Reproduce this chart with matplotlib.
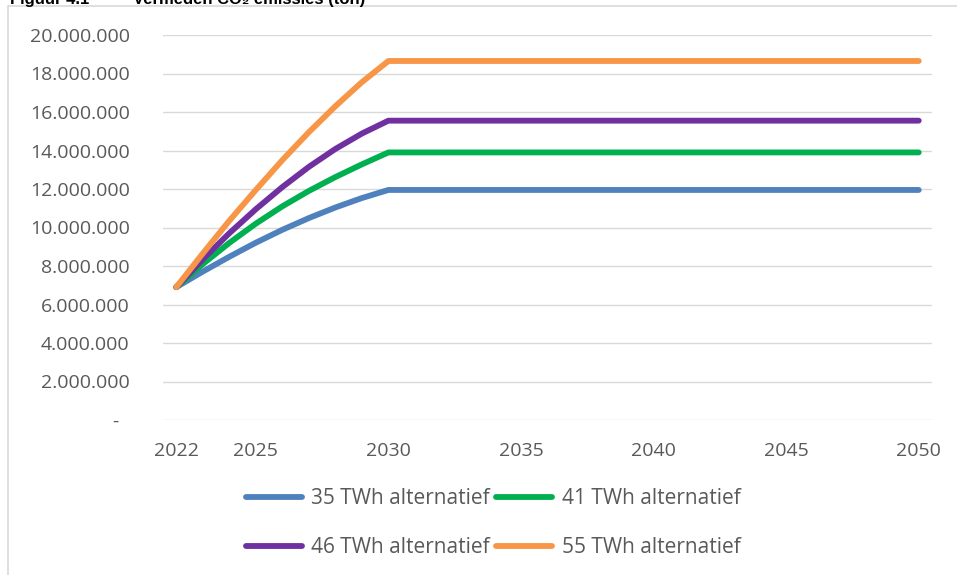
import matplotlib
matplotlib.use("Agg")
import matplotlib.pyplot as plt
from matplotlib.patches import Rectangle
from matplotlib.ticker import FuncFormatter

# Vermeden CO2-emissies per alternatief (ton), 2022-2050
years = list(range(2022, 2051))
ramp_35 = [6.9e6, 7.71e6, 8.48e6, 9.21e6, 9.88e6, 10.49e6, 11.04e6, 11.53e6, 11.95e6]
ramp_41 = [6.9e6, 8.1e6, 9.2e6, 10.2e6, 11.1e6, 11.9e6, 12.62e6, 13.28e6, 13.9e6]
ramp_46 = [6.9e6, 8.35e6, 9.7e6, 10.95e6, 12.1e6, 13.15e6, 14.08e6, 14.88e6, 15.55e6]
ramp_55 = [6.9e6, 8.65e6, 10.35e6, 11.95e6, 13.5e6, 14.95e6, 16.3e6, 17.55e6, 18.65e6]
# na 2030 blijft de besparing gelijk
alt_35 = ramp_35 + [ramp_35[-1]] * 20
alt_41 = ramp_41 + [ramp_41[-1]] * 20
alt_46 = ramp_46 + [ramp_46[-1]] * 20
alt_55 = ramp_55 + [ramp_55[-1]] * 20

labels = ["35 TWh alternatief", "41 TWh alternatief",
          "46 TWh alternatief", "55 TWh alternatief"]
colors = ["#4F81BD", "#00B050", "#7030A0", "#F79646"]
xticks = [2022, 2025, 2030, 2035, 2040, 2045, 2050]
yticks = list(range(0, 20_000_001, 2_000_000))

W, H = 957, 575
fig = plt.figure(figsize=(W / 100, H / 100), dpi=100)
fig.patch.set_facecolor("white")

# kader rond de grafiek
fig.patches.append(Rectangle((8 / W, -0.2), 1.2, 1.2 - 6 / H,
                             transform=fig.transFigure, fill=False,
                             edgecolor="#d9d9d9", linewidth=1.2))

fig.text(10 / W, 1 - 4 / H, "Figuur 4.1", fontsize=12, fontweight="bold",
         family=["Liberation Sans", "DejaVu Sans"], va="baseline")
fig.text(133 / W, 1 - 4 / H, "Vermeden CO\u2082 emissies (ton)", fontsize=12,
         fontweight="bold", family=["Liberation Sans", "DejaVu Sans"], va="baseline")

ax = fig.add_axes([163 / W, 1 - 420 / H, (932 - 163) / W, (420 - 35) / H])
lines = []
for vals, lab, col in zip([alt_35, alt_41, alt_46, alt_55], labels, colors):
    ln, = ax.plot(years, vals, color=col, linewidth=4.2, solid_capstyle="round",
                  solid_joinstyle="round", label=lab)
    lines.append(ln)

ax.set_xlim(2021.5, 2050.5)
ax.set_ylim(0, 20_000_000)
ax.set_xticks(xticks)
ax.set_yticks(yticks)


def fmt(v, pos):
    if v == 0:
        return "-  "
    return f"{int(v):,}".replace(",", ".")


ax.yaxis.set_major_formatter(FuncFormatter(fmt))
ax.grid(axis="y", color="#d9d9d9", linewidth=1.0)
ax.set_axisbelow(True)
for s in ax.spines.values():
    s.set_visible(False)
ax.tick_params(length=0, labelsize=14, labelcolor="#595959")
ax.tick_params(axis="y", pad=24)
ax.tick_params(axis="x", pad=16)
for t in ax.get_xticklabels() + ax.get_yticklabels():
    t.set_family("Open Sans")

# rij voor rij: 35/41 boven, 46/55 onder
order = [0, 2, 1, 3]
leg = ax.legend([lines[i] for i in order], [labels[i] for i in order],
                loc="center", bbox_to_anchor=(493 / W, 1 - 523 / H),
                bbox_transform=fig.transFigure, ncol=2, frameon=False,
                prop={"family": "Open Sans", "size": 15},
                handlelength=2.7, handletextpad=0.45, columnspacing=0.3,
                labelspacing=1.35)
for t in leg.get_texts():
    t.set_color("#595959")

fig.savefig("out.png", dpi=100)
